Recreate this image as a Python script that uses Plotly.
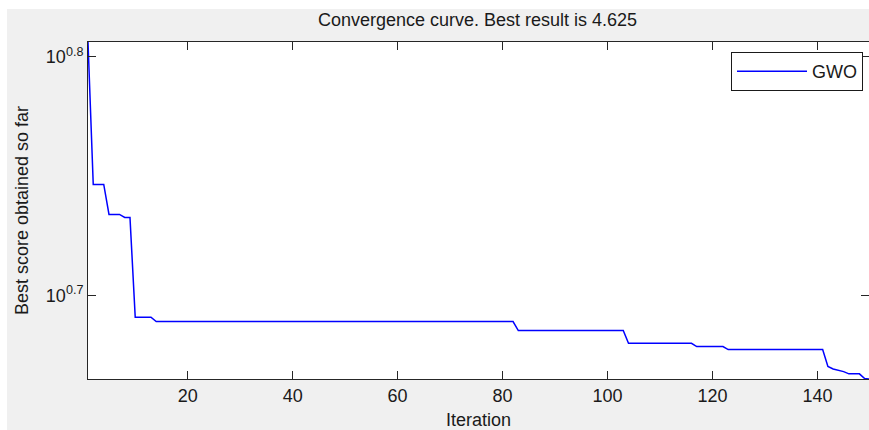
import math
import plotly.graph_objects as go

# Iterations at which the convergence curve changes slope
iterations = [1, 2, 4, 5, 7, 8, 9, 10, 13, 14, 82, 83, 103, 104, 116, 117,
              122, 123, 141, 142, 143, 144, 145, 146, 148, 149, 150]
best_score = [6.400, 5.579, 5.579, 5.420, 5.420, 5.404, 5.404, 4.909, 4.909,
              4.888, 4.888, 4.846, 4.846, 4.787, 4.787, 4.772, 4.772, 4.758,
              4.758, 4.681, 4.670, 4.664, 4.658, 4.648, 4.648, 4.627, 4.625]
series_name = "GWO"
best_result = 4.625

y_tick_exps = [0.7, 0.8]
x_tick_vals = [20, 40, 60, 80, 100, 120, 140]

FONT = "Liberation Sans, Arial, sans-serif"
AX = "#262626"
TXT = "#1a1a1a"

fig = go.Figure()
fig.add_trace(go.Scatter(
    x=iterations, y=best_score, mode="lines", name=series_name,
    line=dict(color="#0000ff", width=1.5),
))

W, H = 869, 430
L, R, T, B = 88, 0, 42, 51
pw, ph = W - L - R, H - T - B

def px_to_paper_x(px):
    return (px - L) / pw

def px_to_paper_y(py):
    return (H - B - py) / ph

shapes = [
    # grey figure background with thin white border on top/left
    dict(type="rect", xref="paper", yref="paper", layer="below",
         x0=px_to_paper_x(7), x1=px_to_paper_x(W + 5),
         y0=px_to_paper_y(H + 5), y1=px_to_paper_y(9),
         fillcolor="#f0f0f0", line=dict(width=0)),
    # white plotting area
    dict(type="rect", xref="paper", yref="paper", layer="below",
         x0=0, x1=1, y0=0, y1=1, fillcolor="white", line=dict(width=0)),
]

fig.update_layout(
    width=W, height=H,
    margin=dict(l=L, r=R, t=T, b=B, pad=0),
    paper_bgcolor="white", plot_bgcolor="white",
    font=dict(family=FONT, size=18, color=TXT),
    title=dict(text=f"Convergence curve. Best result is {best_result}",
               x=477.5 / W, xanchor="center",
               y=1 - 20 / H, yanchor="middle",
               font=dict(family=FONT, size=18, color=TXT)),
    shapes=shapes,
    showlegend=True,
    legend=dict(x=px_to_paper_x(863), xanchor="right",
                y=px_to_paper_y(52), yanchor="top",
                bgcolor="white", bordercolor=TXT, borderwidth=1,
                font=dict(family=FONT, size=18, color=TXT),
                itemwidth=70),
)

fig.update_xaxes(
    range=[1, 149.83], tickmode="array", tickvals=x_tick_vals,
    ticks="inside", ticklen=8, tickcolor=AX, tickwidth=1,
    tickfont=dict(family=FONT, size=18, color=TXT),
    showline=True, linecolor=AX, linewidth=1, mirror="ticks",
    showgrid=False, zeroline=False,
    title=dict(text="Iteration", standoff=8,
               font=dict(family=FONT, size=18, color=TXT)),
)

fig.update_yaxes(
    type="log", range=[math.log10(best_result), math.log10(best_score[0])],
    tickmode="array", tickvals=[10 ** e for e in y_tick_exps],
    ticktext=[f"10<sup>{e}</sup>" for e in y_tick_exps],
    ticks="inside", ticklen=8, tickcolor=AX, tickwidth=1,
    tickfont=dict(family=FONT, size=18, color=TXT),
    showline=True, linecolor=AX, linewidth=1, mirror="ticks",
    showgrid=False, zeroline=False,
    title=dict(text="Best score obtained so far", standoff=12,
               font=dict(family=FONT, size=18, color=TXT)),
)

fig.write_html(
    "out.html",
    config={"displayModeBar": False},
    post_script="document.body.style.margin='0';document.body.style.overflow='hidden';",
)
